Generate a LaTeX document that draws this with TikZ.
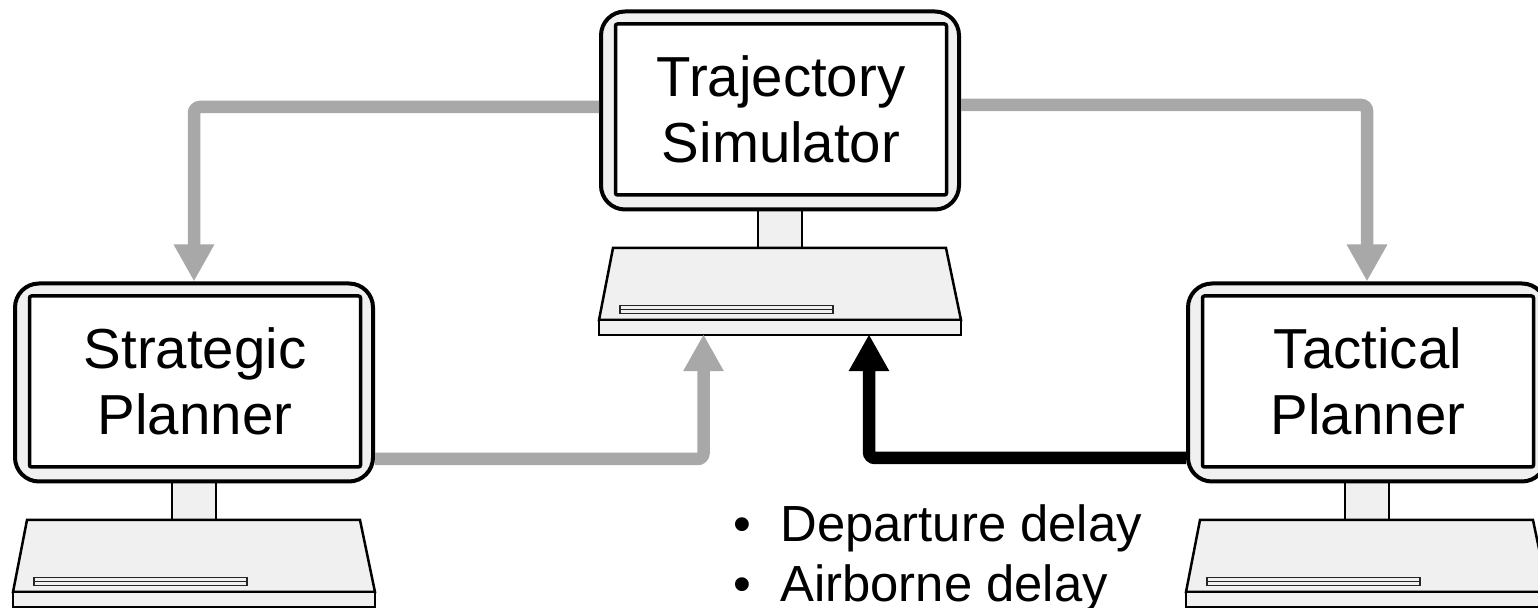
\documentclass[tikz,border=0pt]{standalone}
\usepackage{fontspec}
\setmainfont{Liberation Sans}
\usetikzlibrary{arrows.meta}
\definecolor{pcgray}{HTML}{F0F0F0}
\definecolor{flowgray}{HTML}{A8A8A8}
\tikzset{
	pcpart/.style={draw=black,fill=pcgray,line width=1.25pt},
	pcframe/.style={pcpart,rounded corners=12pt,line width=2pt,minimum width=179pt,minimum height=99pt,inner sep=0pt},
	pcscreen/.style={draw=black,fill=white,rounded corners=1pt,line width=1.75pt,minimum width=165.5pt,minimum height=85.5pt,inner sep=0pt,align=center,font=\fontsize{28.2}{33}\selectfont},
	pcbase/.style={pcpart,minimum width=181pt,minimum height=7.5pt,inner sep=0pt},
	flow/.style={line width=6.25pt,rounded corners=3pt,-{Triangle[width=19pt,length=18.5pt]}},
	listitem/.style={anchor=base west,inner sep=0pt,font=\fontsize{25.4}{30}\selectfont}
}
\begin{document}
\begin{tikzpicture}[x=.5pt,y=-.5pt]
	\clip (0,0) rectangle (1538,608);
	\foreach \pc/\cx/\cy/\lab in {sim/780/110.5/{Trajectory\\Simulator},strat/194/382.5/{Strategic\\Planner},tact/1367/382.5/{Tactical\\Planner}}{
		\begin{scope}[shift={(\cx,\cy)}]
			\draw[pcpart] (-22,95)--(-22,137.5)--(22,137.5)--(22,95);
			\node[pcframe] (\pc frame) at (0,0) {};
			\node[pcscreen] (\pc) at (1,-1) {\lab};
			\draw[pcpart] (-167,137.5)--(166,137.5)--(181,209.5)--(-181,209.5)--cycle;
			\node[pcbase] (\pc base) at (0,217) {};
			\draw[draw=black!85,fill=pcgray,line width=.9pt] (-160,195) rectangle (53,203);
			\draw[draw=black!85,line width=.9pt] (-160,199)--(53,199);
		\end{scope}
	}
	\draw[flow,flowgray] ([yshift=1.75pt]simframe.west) -| (stratframe.north);
	\draw[flow,flowgray] ([yshift=2.75pt]simframe.east) -| (tactframe.north);
	\draw[flow,flowgray] ([yshift=-38.25pt]stratframe.east) -| ([xshift=-38.25pt,yshift=1pt]simbase.south);
	\draw[flow,black] ([yshift=-37.75pt]tactframe.west) -| ([xshift=44.5pt,yshift=1pt]simbase.south);
	\node[listitem] (departure) at (733,542) {\makebox[23.5pt][l]{\textbullet}Departure delay};
	\node[listitem] (airborne) at (733,602) {\makebox[23.5pt][l]{\textbullet}Airborne delay};
\end{tikzpicture}
\end{document}
